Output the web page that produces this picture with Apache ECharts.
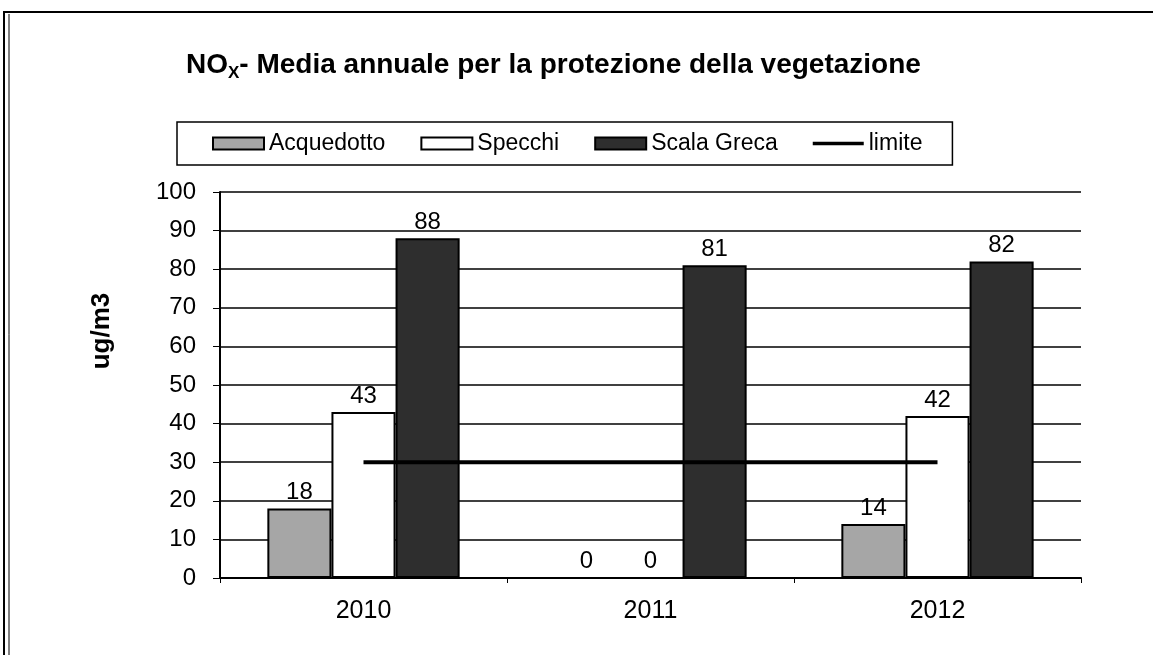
<!DOCTYPE html>
<html>
<head>
<meta charset="utf-8">
<script src="https://cdn.jsdelivr.net/npm/echarts@6/dist/echarts.min.js"></script>
<style>
  html, body { margin: 0; padding: 0; background: #fff; }
  #chart { width: 1153px; height: 655px; }
</style>
</head>
<body>
<div id="chart"></div>
<script>
const years = ['2010', '2011', '2012'];
const acquedotto = [18, 0, 14];
const specchi = [43, 0, 42];
const scalaGreca = [88, 81, 82];
const limite = [30, 30, 30];

const chart = echarts.init(document.getElementById('chart'));
const font = '"Liberation Sans", Arial, sans-serif';

const barLabel = {
  show: true,
  position: 'top',
  distance: 4,
  color: '#000',
  fontSize: 24,
  fontFamily: font
};

chart.setOption({
  animation: false,
  textStyle: { fontFamily: font, color: '#000' },
  title: {
    text: '{a|NO}{s|X}{a|- Media annuale per la protezione della vegetazione}',
    left: 181,
    top: 44,
    textStyle: {
      rich: {
        a: { fontSize: 28, fontWeight: 'bold', color: '#000', fontFamily: font },
        s: { fontSize: 17, fontWeight: 'bold', color: '#000', fontFamily: font, padding: [16, 0, 0, 0] }
      }
    }
  },
  graphic: [
    // cornice esterna (scansione)
    {
      type: 'rect',
      shape: { x: 4, y: 12, width: 1160, height: 700 },
      style: { fill: 'none', stroke: '#000', lineWidth: 2 }
    },
    {
      type: 'line',
      shape: { x1: 9, y1: 14, x2: 9, y2: 655 },
      style: { stroke: '#000', lineWidth: 1 }
    },
    {
      type: 'text',
      x: 102,
      y: 331,
      rotation: Math.PI / 2,
      style: {
        text: 'ug/m3',
        fontSize: 26,
        fontWeight: 'bold',
        fontFamily: font,
        fill: '#000',
        align: 'center',
        verticalAlign: 'middle'
      }
    }
  ],
  legend: {
    left: 177,
    top: 122,
    padding: [10, 30, 10, 35],
    borderColor: '#000',
    borderWidth: 1.5,
    itemWidth: 51,
    itemHeight: 12,
    itemGap: 35,
    textStyle: { fontSize: 23, color: '#000', fontFamily: font },
    data: [
      { name: 'Acquedotto', icon: 'rect' },
      { name: 'Specchi', icon: 'rect' },
      { name: 'Scala Greca', icon: 'rect' },
      { name: 'limite', icon: 'path://M0,0H56V4H0Z' }
    ]
  },
  grid: { left: 220, right: 72, top: 192, bottom: 77 },
  xAxis: {
    type: 'category',
    data: years,
    axisLine: { lineStyle: { color: '#000', width: 2 } },
    axisTick: { show: true, length: 5, lineStyle: { color: '#000', width: 1 } },
    axisLabel: { fontSize: 25, color: '#000', margin: 21, fontFamily: font }
  },
  yAxis: {
    type: 'value',
    min: 0,
    max: 100,
    interval: 10,
    axisLine: { show: true, lineStyle: { color: '#000', width: 2 } },
    axisTick: { show: true, length: 7, lineStyle: { color: '#000', width: 1 } },
    axisLabel: { fontSize: 24, color: '#000', margin: 24, fontFamily: font },
    splitLine: { lineStyle: { color: '#000', width: 1.5 } }
  },
  series: [
    {
      name: 'Acquedotto',
      type: 'bar',
      data: acquedotto,
      barGap: '0%',
      barCategoryGap: '33%',
      itemStyle: { color: '#a6a6a6', borderColor: '#000', borderWidth: 2 },
      label: barLabel,
      z: 3
    },
    {
      name: 'Specchi',
      type: 'bar',
      data: specchi,
      itemStyle: { color: '#ffffff', borderColor: '#000', borderWidth: 2 },
      label: barLabel,
      z: 3
    },
    {
      name: 'Scala Greca',
      type: 'bar',
      data: scalaGreca,
      itemStyle: { color: '#2e2e2e', borderColor: '#000', borderWidth: 2 },
      label: barLabel,
      z: 3
    },
    {
      name: 'limite',
      type: 'line',
      data: limite,
      symbol: 'none',
      lineStyle: { color: '#000', width: 4 },
      itemStyle: { color: '#000' },
      z: 5
    }
  ]
});
</script>
</body>
</html>
